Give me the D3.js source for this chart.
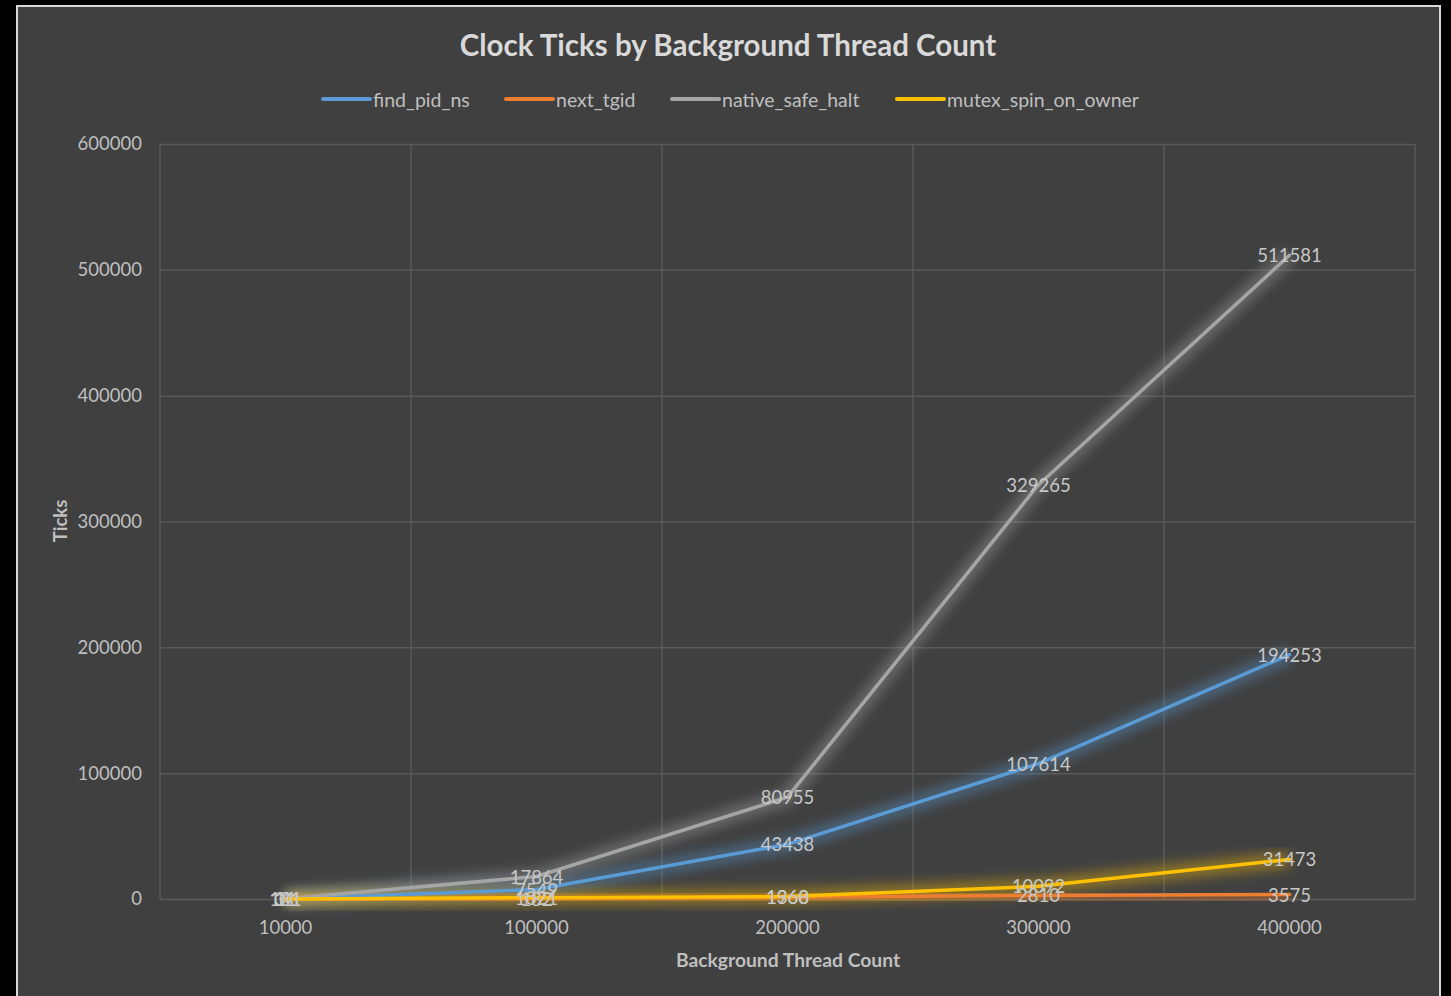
<!DOCTYPE html>
<html>
<head>
<meta charset="utf-8">
<script src="https://cdn.jsdelivr.net/npm/d3@7"></script>
<style>
  html, body { margin: 0; padding: 0; background: #000; }
  svg { display: block; }
  text { font-family: Lato, "Open Sans", sans-serif; }
</style>
</head>
<body>
<svg id="chart" width="1451" height="996"></svg>
<script>
// Background thread counts (category axis)
const categories = ["10000", "100000", "200000", "300000", "400000"];

// Clock ticks per function
const findPidNs        = [131, 7549, 43438, 107614, 194253];
const nextTgid         = [11, 182, 1360, 2810, 3575];
const nativeSafeHalt   = [141, 17864, 80955, 329265, 511581];
const mutexSpinOnOwner = [31, 1021, 1968, 10092, 31473];

const seriesNames  = ["find_pid_ns", "next_tgid", "native_safe_halt", "mutex_spin_on_owner"];
const seriesColors = ["#5b9bd5", "#ed7d31", "#a5a5a5", "#ffc000"];
const yTicks = [0, 100000, 200000, 300000, 400000, 500000, 600000];

const series = [findPidNs, nextTgid, nativeSafeHalt, mutexSpinOnOwner].map((vals, i) => ({
  name: seriesNames[i], color: seriesColors[i],
  points: vals.map((v, j) => ({ cat: categories[j], value: v }))
}));

const svg = d3.select("#chart");
const W = 1451, H = 996;
const plot = { left: 160, right: 1415, top: 144, bottom: 899 };

// chart panel
svg.append("rect").attr("x", 17).attr("y", 6).attr("width", 1423).attr("height", H)
  .attr("fill", "#404040").attr("stroke", "#d9d9d9").attr("stroke-width", 2);

const defs = svg.append("defs");
const glow = defs.append("filter").attr("id", "glow")
  .attr("x", "-10%").attr("y", "-30%").attr("width", "120%").attr("height", "160%");
glow.append("feGaussianBlur").attr("in", "SourceGraphic").attr("stdDeviation", 6);

const x = d3.scaleBand().domain(categories).range([plot.left, plot.right]);
const y = d3.scaleLinear().domain([0, 600000]).range([plot.bottom, plot.top]);
const cx = c => x(c) + x.bandwidth() / 2;

// horizontal gridlines + y tick labels
const yAxis = svg.append("g").attr("transform", `translate(${plot.left},0)`)
  .call(d3.axisLeft(y).tickValues(yTicks).tickFormat(d3.format("d"))
    .tickSize(-(plot.right - plot.left)).tickPadding(18));
yAxis.select(".domain").remove();
yAxis.selectAll(".tick line").attr("stroke", "#595959").attr("stroke-width", 1.5);
yAxis.selectAll(".tick text").attr("fill", "#bfbfbf").style("font-size", "18.5px");

// vertical gridlines at category boundaries
const edges = categories.map(c => x(c)).concat([plot.right]);
svg.append("g").selectAll("line").data(edges).join("line")
  .attr("x1", d => d).attr("x2", d => d)
  .attr("y1", plot.top).attr("y2", plot.bottom)
  .attr("stroke", "#595959").attr("stroke-width", 1.5);

// x tick labels
const xAxis = svg.append("g").attr("transform", `translate(0,${plot.bottom})`)
  .call(d3.axisBottom(x).tickSize(0).tickPadding(22));
xAxis.select(".domain").attr("stroke", "#595959").attr("stroke-width", 1.5);
xAxis.selectAll(".tick text").attr("fill", "#bfbfbf").style("font-size", "18.5px");

// lines with glow
const line = d3.line().x(d => cx(d.cat)).y(d => y(d.value));
const lines = svg.append("g");
series.forEach(s => {
  lines.append("path").datum(s.points).attr("d", line)
    .attr("fill", "none").attr("stroke", s.color).attr("stroke-width", 16)
    .attr("stroke-opacity", 0.4).attr("stroke-linejoin", "round")
    .attr("filter", "url(#glow)");
});
series.forEach(s => {
  lines.append("path").datum(s.points).attr("d", line)
    .attr("fill", "none").attr("stroke", s.color).attr("stroke-width", 3.5)
    .attr("stroke-linejoin", "round").attr("stroke-linecap", "round");
});

// data labels centred on points
const labels = svg.append("g");
series.forEach(s => {
  labels.selectAll(null).data(s.points).join("text")
    .attr("x", d => cx(d.cat)).attr("y", d => y(d.value))
    .attr("text-anchor", "middle").attr("dominant-baseline", "central")
    .attr("fill", "#c8c8c8").style("font-size", "18.5px")
    .text(d => d.value);
});

// title
svg.append("text").attr("x", 728).attr("y", 44)
  .attr("text-anchor", "middle").attr("dominant-baseline", "central")
  .attr("fill", "#d9d9d9").style("font-size", "29.5px").style("font-weight", "bold")
  .text("Clock Ticks by Background Thread Count");

// legend
const legendX = [323, 506, 672, 897];
const legend = svg.append("g");
series.forEach((s, i) => {
  const g = legend.append("g").attr("transform", `translate(${legendX[i]},99)`);
  g.append("line").attr("x1", 0).attr("x2", 47).attr("stroke", s.color)
    .attr("stroke-width", 4).attr("stroke-linecap", "round");
  g.append("text").attr("x", 50).attr("dominant-baseline", "central")
    .attr("fill", "#bfbfbf").style("font-size", "19.5px").text(s.name);
});

// axis titles
svg.append("text").attr("x", 788).attr("y", 959)
  .attr("text-anchor", "middle").attr("dominant-baseline", "central")
  .attr("fill", "#bfbfbf").style("font-size", "19.3px").style("font-weight", "bold")
  .text("Background Thread Count");
svg.append("text").attr("transform", "translate(60,521) rotate(-90)")
  .attr("text-anchor", "middle").attr("dominant-baseline", "central")
  .attr("fill", "#bfbfbf").style("font-size", "18.5px").style("font-weight", "bold")
  .text("Ticks");
</script>
</body>
</html>
